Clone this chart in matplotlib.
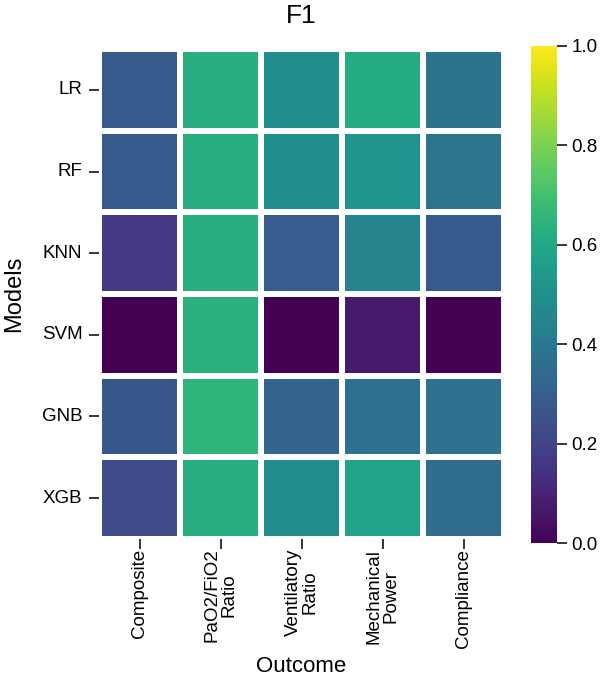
import matplotlib
matplotlib.use("Agg")
import matplotlib.pyplot as plt
import seaborn as sns
import numpy as np
import pandas as pd

plt.rcParams["font.family"] = ["Liberation Sans", "DejaVu Sans"]

models = ["LR", "RF", "KNN", "SVM", "GNB", "XGB"]
outcomes = ["Composite", "PaO2/FiO2\nRatio", "Ventilatory\nRatio",
            "Mechanical\nPower", "Compliance"]

# F1 per model (rows) and outcome (columns)
composite = [0.28, 0.28, 0.17, 0.00, 0.27, 0.23]
pao2_fio2 = [0.63, 0.63, 0.63, 0.64, 0.65, 0.63]
ventilatory = [0.49, 0.49, 0.29, 0.00, 0.32, 0.48]
mech_power = [0.61, 0.52, 0.45, 0.07, 0.37, 0.58]
compliance = [0.38, 0.39, 0.28, 0.00, 0.37, 0.35]

df = pd.DataFrame(
    np.column_stack([composite, pao2_fio2, ventilatory, mech_power, compliance]),
    index=models, columns=outcomes)

W, H = 603, 685
fig = plt.figure(figsize=(W / 100, H / 100), dpi=100)
ax = fig.add_axes([99 / W, 1 - 539 / H, 405 / W, 490 / H])
cax = fig.add_axes([531 / W, 1 - 543 / H, 26 / W, 497 / H])

sns.heatmap(df, ax=ax, cbar_ax=cax, cmap="viridis", vmin=0, vmax=1,
            linewidths=3, linecolor="white")

ax.set_title("F1", fontsize=19, pad=19)
ax.set_xlabel("Outcome", fontsize=16, labelpad=6)
ax.set_ylabel("Models", fontsize=17, labelpad=12)
ax.tick_params(axis="x", labelsize=13.5, length=7, width=1.1, pad=0)
ax.tick_params(axis="y", labelsize=13.5, length=7, width=1.1, pad=5)
ax.set_yticklabels(models, rotation=0)
ax.set_xticklabels(outcomes, rotation=90, ha="center", va="top",
                   linespacing=1.0)

cax.tick_params(labelsize=13.5, length=7, width=1.1)
cax.set_yticks([0, 0.2, 0.4, 0.6, 0.8, 1.0])
cax.set_yticklabels(["0.0", "0.2", "0.4", "0.6", "0.8", "1.0"])

fig.savefig("out.png", dpi=100)
